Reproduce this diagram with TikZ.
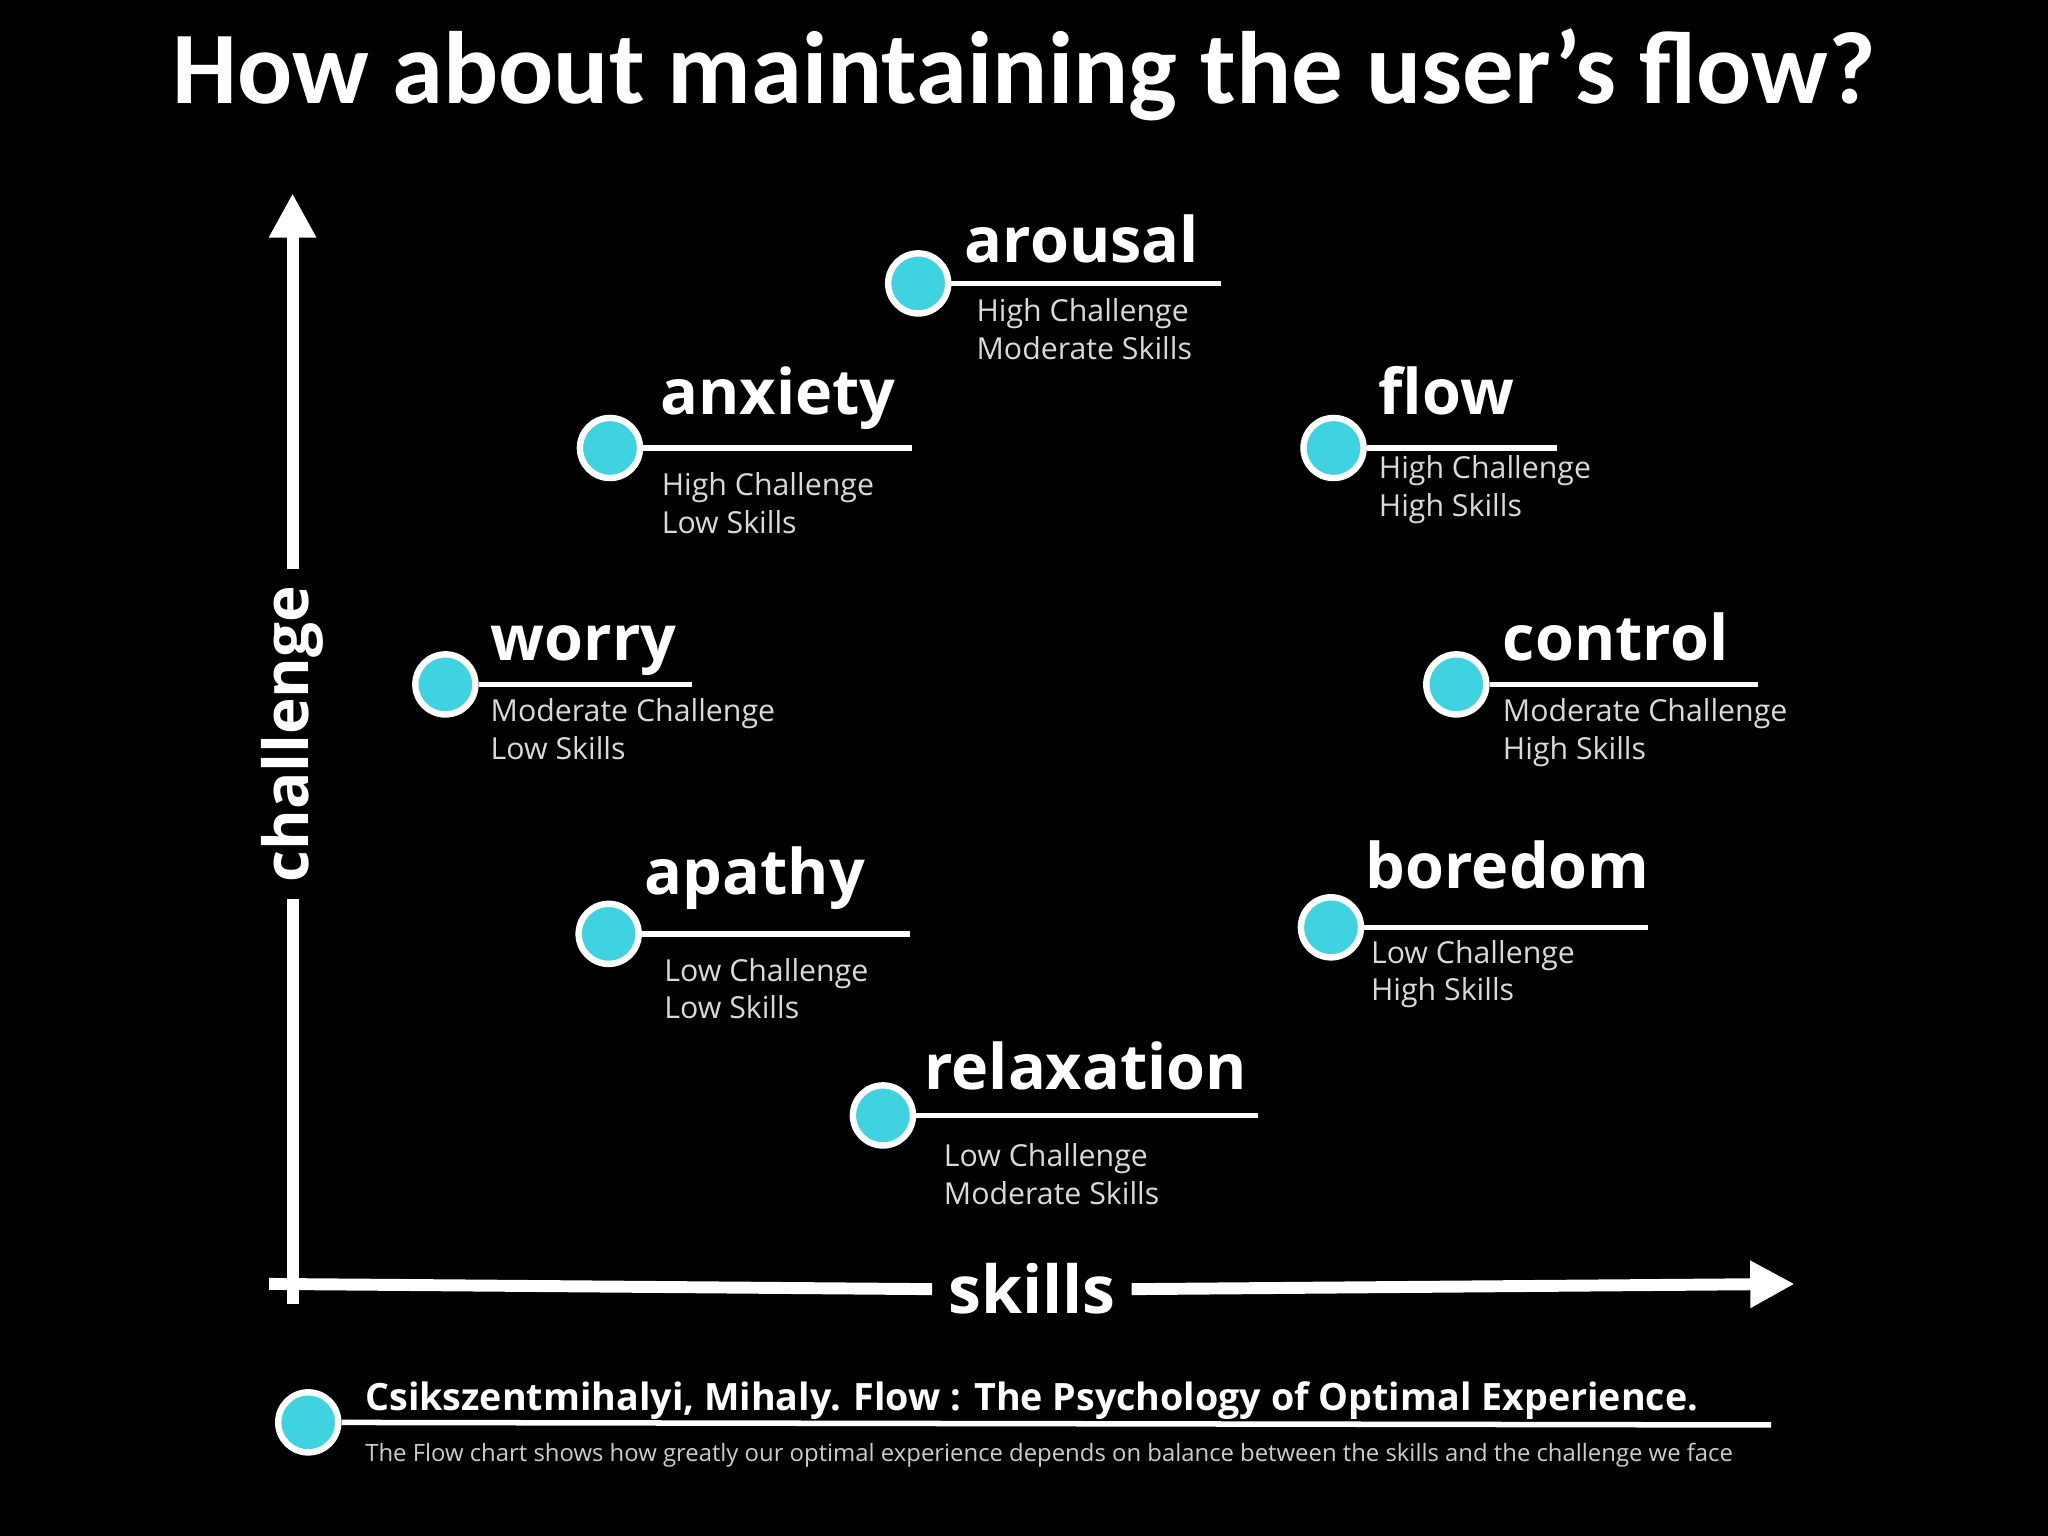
\documentclass[tikz,border=0pt]{standalone}
\usepackage{fontspec}
\setmainfont{Open Sans}
\newfontfamily\titlefont{Carlito}
\usetikzlibrary{arrows.meta}
\definecolor{dot}{HTML}{3FD3E2}
\tikzset{
  state/.style={circle,fill=dot,draw=white,line width=1.4pt,minimum size=0.46cm,inner sep=0pt},
  head/.style={anchor=base west,inner sep=0pt,text=white,font=\bfseries\fontsize{13.7}{13.7}\selectfont},
  sub/.style={anchor=north west,inner sep=0pt,text=white!85!black,align=left,font=\fontsize{6.6}{8.2}\selectfont},
  rule/.style={draw=white,line width=1.2pt},
  axis/.style={draw=white,line width=2.6pt}
}
\newcommand{\flowstate}[9]{%
  \node[state] (#1) at (#2,#3) {};
  \coordinate (#1end) at (#4,#3);
  \draw[rule] (#1) -- (#1end);
  \node[head] (#1head) at (#5,#6) {#1};
  \node[sub] (#1sub) at (#7,#8) {#9};
}
\begin{document}
\begin{tikzpicture}[y=-1cm]
\fill[black] (0,0) rectangle (15.68,11.76);
\useasboundingbox (0,0) rectangle (15.68,11.76);
\node[text=white,font=\titlefont\bfseries\fontsize{22.4}{22.4}\selectfont] (title) at (7.84,0.57) {How about maintaining the user’s flow?};
% axes
\coordinate (ctop) at (2.24,1.48);
\coordinate (sright) at (13.74,9.83);
\node[text=white,rotate=90,font=\bfseries\fontsize{13.5}{13.5}\selectfont] (challenge) at (2.24,5.62) {challenge};
\node[text=white,font=\bfseries\fontsize{14.4}{14.4}\selectfont] (skills) at (7.90,9.87) {skills};
\draw[axis] (2.24,9.98) -- (challenge.west);
\draw[axis,-{Triangle[length=0.34cm,width=0.34cm]}] (challenge.east) -- (ctop);
\draw[axis] (2.06,9.83) -- (skills.west);
\draw[axis,-{Triangle[length=0.34cm,width=0.34cm]}] (skills.east) -- (sright);
% states
\flowstate{arousal}{7.03}{2.17}{9.35}{7.38}{2.01}{7.47}{2.28}{High Challenge\\Moderate Skills}
\flowstate{anxiety}{4.67}{3.43}{6.98}{5.05}{3.17}{5.06}{3.61}{High Challenge\\Low Skills}
\flowstate{flow}{10.21}{3.43}{11.92}{10.55}{3.17}{10.55}{3.48}{High Challenge\\High Skills}
\flowstate{worry}{3.41}{5.24}{5.30}{3.75}{5.06}{3.75}{5.34}{Moderate Challenge\\Low Skills}
\flowstate{control}{11.15}{5.24}{13.46}{11.50}{5.06}{11.50}{5.34}{Moderate Challenge\\High Skills}
\flowstate{apathy}{4.66}{7.15}{6.97}{4.93}{6.85}{5.08}{7.33}{Low Challenge\\Low Skills}
\flowstate{boredom}{10.19}{7.10}{12.62}{10.45}{6.80}{10.49}{7.19}{Low Challenge\\High Skills}
\flowstate{relaxation}{6.76}{8.54}{9.63}{7.07}{8.34}{7.22}{8.75}{Low Challenge\\Moderate Skills}
% reference
\node[state] (ref) at (2.36,10.89) {};
\coordinate (refend) at (13.56,10.91);
\draw[rule] (ref) -- (refend);
\node[anchor=base west,inner sep=0pt,text=white,font=\bfseries\fontsize{8.2}{8.2}\selectfont] (refhead) at (2.79,10.80) {Csikszentmihalyi, Mihaly. Flow : The Psychology of Optimal Experience.};
\node[anchor=base west,inner sep=0pt,text=white!80!black,font=\fontsize{5.2}{5.2}\selectfont] (refsub) at (2.79,11.19) {The Flow chart shows how greatly our optimal experience depends on balance between the skills and the challenge we face};
\end{tikzpicture}
\end{document}
